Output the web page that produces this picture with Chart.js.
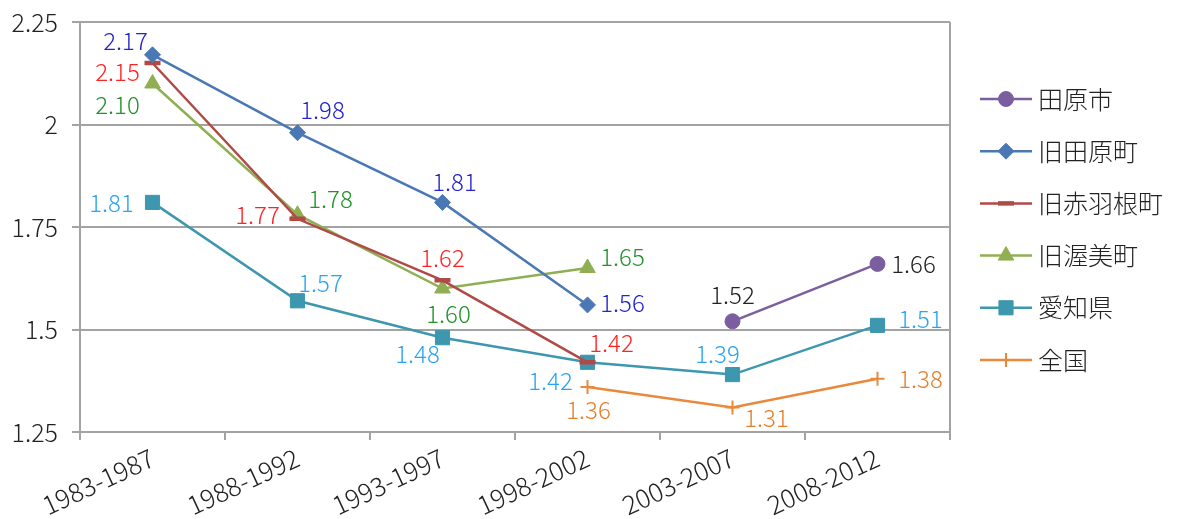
<!DOCTYPE html>
<html>
<head>
<meta charset="utf-8">
<script src="https://cdn.jsdelivr.net/npm/chart.js@4/dist/chart.umd.min.js"></script>
<style>
  html, body { margin: 0; padding: 0; background: #ffffff; }
  #wrap { position: relative; width: 1179px; height: 519px; }
</style>
</head>
<body>
<div id="wrap"><canvas id="c"></canvas></div>
<script>
// ---- data ----
const categories = ['1983-1987', '1988-1992', '1993-1997', '1998-2002', '2003-2007', '2008-2012'];
const seriesNames = ['田原市', '旧田原町', '旧赤羽根町', '旧渥美町', '愛知県', '全国'];
const tahara     = [null, null, null, null, 1.52, 1.66];
const oldTahara  = [2.17, 1.98, 1.81, 1.56, null, null];
const oldAkabane = [2.15, 1.77, 1.62, 1.42, null, null];
const oldAtsumi  = [2.10, 1.78, 1.60, 1.65, null, null];
const aichi      = [1.81, 1.57, 1.48, 1.42, 1.39, 1.51];
const national   = [null, null, null, 1.36, 1.31, 1.38];
const yTickValues = [1.25, 1.5, 1.75, 2, 2.25];
const yTickLabels = ['1.25', '1.5', '1.75', '2', '2.25'];

// ---- styles ----
const FONT = '"Noto Sans CJK JP", "Noto Sans", sans-serif';
const WEIGHT = '300';
const GRID = '#a3a3a3';
const styles = [
  { line: '#7B5EA0', point: 'circle',   radius: 7.5, pbw: 1, label: '#222222' },
  { line: '#4A78B4', point: 'rectRot',  radius: 8,   pbw: 1, label: '#2323CF' },
  { line: '#B04A46', point: 'line',     radius: 8,   pbw: 4.5, label: '#FF2222' },
  { line: '#8FAF52', point: 'triangle', radius: 9,   pbw: 1, label: '#22922A' },
  { line: '#3D97AE', point: 'rect',     radius: 10,  pbw: 1, label: '#2AA4F2' },
  { line: '#E8893C', point: 'cross',    radius: 7,   pbw: 2, label: '#E67E28' }
];
// label placement relative to each point (dx, dy in px)
const labelOffsets = [
  [null, null, null, null, [0, -26], [36, 0]],
  [[-27, -14], [25, -23], [12, -21], [35, -2], null, null],
  [[-35, 9], [-40, -4], [0, -22], [24, -19], null, null],
  [[-35, 21], [33, -16], [6, 25], [35, -11], null, null],
  [[-41, 0], [23, -18], [-25, 16], [-37, 19], [-15, -21], [43, -7]],
  [null, null, null, [1, 23], [34, 10], [43, 0]]
];

const seriesData = [tahara, oldTahara, oldAkabane, oldAtsumi, aichi, national];

const datasets = seriesNames.map((name, i) => ({
  label: name,
  data: seriesData[i],
  borderColor: styles[i].line,
  backgroundColor: styles[i].line,
  pointBackgroundColor: styles[i].line,
  pointBorderColor: styles[i].line,
  pointStyle: styles[i].point,
  pointRadius: styles[i].radius,
  pointHoverRadius: styles[i].radius,
  pointBorderWidth: styles[i].pbw,
  borderWidth: 2.5,
  tension: 0,
  spanGaps: false,
  fill: false
}));

const labelPlugin = {
  id: 'valueLabels',
  afterDatasetsDraw(chart) {
    const ctx = chart.ctx;
    ctx.save();
    ctx.font = WEIGHT + ' 24px ' + FONT;
    ctx.textAlign = 'center';
    ctx.textBaseline = 'middle';
    chart.data.datasets.forEach((ds, i) => {
      const meta = chart.getDatasetMeta(i);
      meta.data.forEach((pt, j) => {
        const v = ds.data[j];
        if (v === null || v === undefined) return;
        const off = labelOffsets[i][j] || [0, -20];
        ctx.fillStyle = styles[i].label;
        ctx.fillText(v.toFixed(2), pt.x + off[0], pt.y + off[1]);
      });
    });
    ctx.restore();
  }
};

const borderPlugin = {
  id: 'plotBorder',
  beforeDatasetsDraw(chart) {
    const a = chart.chartArea, ctx = chart.ctx;
    ctx.save();
    ctx.strokeStyle = GRID;
    ctx.lineWidth = 2;
    ctx.beginPath();
    ctx.moveTo(a.right, a.top);
    ctx.lineTo(a.right, a.bottom);
    ctx.stroke();
    ctx.restore();
  }
};

const legendPlugin = {
  id: 'sideLegend',
  afterDraw(chart) {
    const a = chart.chartArea, ctx = chart.ctx;
    const x0 = a.right + 30, x1 = x0 + 52, xm = (x0 + x1) / 2;
    const yStart = 99, step = 52.2;
    ctx.save();
    chart.data.datasets.forEach((ds, i) => {
      const y = yStart + i * step;
      ctx.strokeStyle = ds.borderColor;
      ctx.lineWidth = 2.5;
      ctx.beginPath();
      ctx.moveTo(x0, y);
      ctx.lineTo(x1, y);
      ctx.stroke();
      ctx.fillStyle = ds.pointBackgroundColor;
      ctx.strokeStyle = ds.pointBorderColor;
      ctx.lineWidth = ds.pointBorderWidth;
      Chart.helpers.drawPoint(ctx, {
        pointStyle: ds.pointStyle, radius: ds.pointRadius, rotation: 0, borderWidth: ds.pointBorderWidth
      }, xm, y);
      ctx.fillStyle = '#222222';
      ctx.font = WEIGHT + ' 25px ' + FONT;
      ctx.textAlign = 'left';
      ctx.textBaseline = 'middle';
      ctx.fillText(ds.label, x1 + 6, y);
    });
    ctx.restore();
  }
};

new Chart(document.getElementById('c'), {
  type: 'line',
  data: { labels: categories, datasets },
  options: {
    responsive: true,
    maintainAspectRatio: false,
    animation: false,
    events: [],
    layout: { padding: { top: 22, right: 229, left: 0, bottom: 0 } },
    plugins: { legend: { display: false }, tooltip: { enabled: false } },
    scales: {
      x: {
        offset: true,
        grid: { offset: true, drawOnChartArea: false, drawTicks: true, tickLength: 8, color: GRID, lineWidth: 2 },
        border: { color: GRID, width: 2 },
        ticks: { minRotation: 25, maxRotation: 25, color: '#222222', font: { family: FONT, size: 26, weight: WEIGHT }, padding: 2 },
        afterFit(s) { s.height = 87; }
      },
      y: {
        min: 1.25, max: 2.25,
        afterBuildTicks(s) { s.ticks = yTickValues.map(v => ({ value: v })); },
        grid: { color: GRID, lineWidth: 2, drawTicks: true, tickLength: 8 },
        border: { color: GRID, width: 2 },
        ticks: {
          color: '#222222', font: { family: FONT, size: 25, weight: WEIGHT }, padding: 14,
          callback(v) { const k = yTickValues.indexOf(v); return k >= 0 ? yTickLabels[k] : ''; }
        },
        afterFit(s) { s.width = 80; s.paddingTop = 0; s.paddingBottom = 0; }
      }
    }
  },
  plugins: [labelPlugin, borderPlugin, legendPlugin]
});
</script>
</body>
</html>
